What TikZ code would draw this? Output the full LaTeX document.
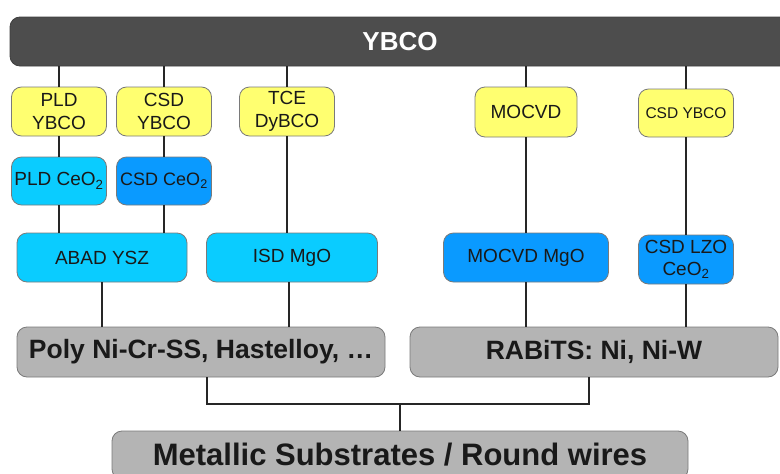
\documentclass[tikz,border=0pt]{standalone}
\usepackage{fontspec}
\setmainfont{Liberation Sans}
\definecolor{ybox}{HTML}{FFFF70}
\definecolor{lbox}{HTML}{0ACCFF}
\definecolor{dbox}{HTML}{0A9AFF}
\definecolor{gbox}{HTML}{B4B4B4}
\definecolor{barc}{HTML}{4D4D4D}
\definecolor{boxborder}{HTML}{7A7A7A}
\begin{document}
\begin{tikzpicture}[x=1pt,y=-1pt,
  box/.style={draw=boxborder, line width=0.8pt, rounded corners=10pt, inner sep=0pt, align=center, text=black!90},
  lbl/.style={font=\fontsize{19}{23}\selectfont},
  ybx/.style={box, lbl, fill=ybox},
  lbx/.style={box, lbl, fill=lbox},
  dbx/.style={box, lbl, fill=dbox},
  gbx/.style={box, fill=gbox, font=\fontsize{26.5}{30}\selectfont\bfseries},
  conn/.style={line width=1.3pt, draw=black!85}
]
\useasboundingbox (0,0) rectangle (780,474);
\clip (0,0) rectangle (780,474);

% top bar
\node[box, fill=barc, draw=barc!80!black, text=white, minimum width=780, minimum height=49,
      font=\fontsize{26}{30}\selectfont\bfseries] (ybco) at (400,41.5) {YBCO};

% yellow row
\node[ybx, minimum width=95, minimum height=49] (pld1) at (59,111.5) {PLD\\YBCO};
\node[ybx, minimum width=95, minimum height=49] (csd1) at (164,111.5) {CSD\\YBCO};
\node[ybx, minimum width=95, minimum height=49] (tce) at (287,111.5) {TCE\\DyBCO};
\node[ybx, minimum width=102, minimum height=50] (mocvd) at (526,112) {MOCVD};
\node[ybx, minimum width=95, minimum height=48, font=\fontsize{15.5}{18}\selectfont] (csd2) at (686,113) {CSD YBCO};

% buffer row 1
\node[lbx, minimum width=95, minimum height=48] (pld2) at (59,181) {PLD CeO\textsubscript{2}};
\node[dbx, minimum width=95, minimum height=48, font=\fontsize{18}{21}\selectfont] (csdce) at (164,181) {CSD CeO\textsubscript{2}};

% buffer row 2
\node[lbx, minimum width=170, minimum height=49] (abad) at (102,257.5) {ABAD YSZ};
\node[lbx, minimum width=171, minimum height=49] (isd) at (292,257.5) {ISD MgO};
\node[dbx, minimum width=165, minimum height=49] (mocmgo) at (526,257.5) {MOCVD MgO};
\node[dbx, minimum width=95, minimum height=49, font=\fontsize{19}{22}\selectfont] (lzo) at (686,259.5) {CSD LZO\\CeO\textsubscript{2}};

% substrates
\node[gbx, minimum width=368, minimum height=50] (poly) at (201,352) {Poly Ni-Cr-SS, Hastelloy, \dots};
\node[gbx, minimum width=368, minimum height=50] (rabits) at (594,352) {RABiTS: Ni, Ni-W};
\node[gbx, minimum width=576, minimum height=48, font=\fontsize{31}{34}\selectfont\bfseries] (metal) at (400,455) {Metallic Substrates / Round wires};

% connectors from bar
\draw[conn] (pld1.north) -- (pld1.north |- ybco.south);
\draw[conn] (csd1.north) -- (csd1.north |- ybco.south);
\draw[conn] (tce.north) -- (tce.north |- ybco.south);
\draw[conn] (mocvd.north) -- (mocvd.north |- ybco.south);
\draw[conn] (csd2.north) -- (csd2.north |- ybco.south);

% vertical chains
\draw[conn] (pld1.south) -- (pld2.north);
\draw[conn] (csd1.south) -- (csdce.north);
\draw[conn] (pld2.south) -- (pld2.south |- abad.north);
\draw[conn] (csdce.south) -- (csdce.south |- abad.north);
\draw[conn] (tce.south) -- (tce.south |- isd.north);
\draw[conn] (mocvd.south) -- (mocvd.south |- mocmgo.north);
\draw[conn] (csd2.south) -- (lzo.north);

\draw[conn] (abad.south) -- (abad.south |- poly.north);
\draw[conn] (isd.south) ++(-3,0) coordinate (isdb) -- (isdb |- poly.north);
\draw[conn] (mocmgo.south) -- (mocmgo.south |- rabits.north);
\draw[conn] (lzo.south) -- (lzo.south |- rabits.north);

% bottom junction
\coordinate (jc) at (metal.north |- 0,404);
\draw[conn] (poly.south) ++(6,0) coordinate (pb) -- (pb |- jc) -- (jc);
\draw[conn] (rabits.south) ++(-5,0) coordinate (rb) -- (rb |- jc) -- (jc);
\draw[conn] (jc) -- (metal.north);
\end{tikzpicture}
\end{document}
